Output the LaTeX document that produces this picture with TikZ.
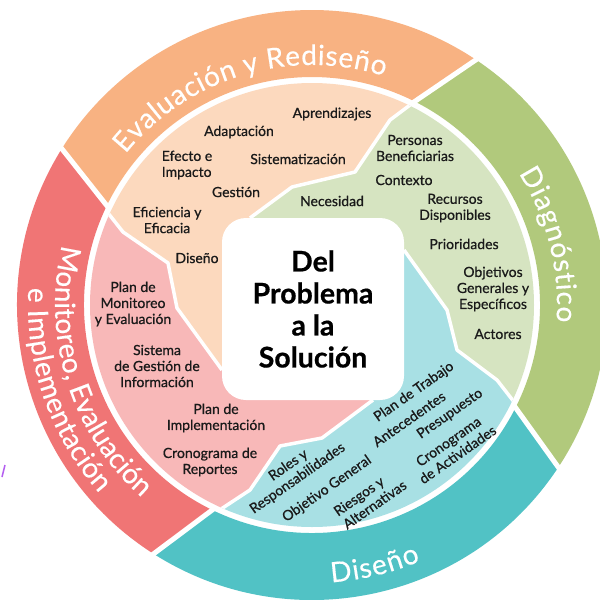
\documentclass[tikz,border=0pt]{standalone}
\usepackage{fontspec}
\setmainfont{Lato}
\newfontfamily\lblfam[FakeBold=0.7]{Lato}
\newfontfamily\ringfam[FakeBold=0.3]{Lato}
\newfontfamily\centrefam[FakeBold=0.6]{Lato}
\usetikzlibrary{decorations.text}
\definecolor{rpeach}{RGB}{248,178,130}
\definecolor{ipeach}{RGB}{252,217,190}
\definecolor{rgreen}{RGB}{177,201,124}
\definecolor{igreen}{RGB}{214,228,193}
\definecolor{rteal}{RGB}{81,194,197}
\definecolor{iteal}{RGB}{168,224,228}
\definecolor{rred}{RGB}{240,117,117}
\definecolor{ipink}{RGB}{248,184,184}
\definecolor{txt}{RGB}{26,26,26}
\definecolor{violetstroke}{RGB}{180,95,240}
\tikzset{
  lbl/.style={font=\lblfam\fontsize{14}{16}\selectfont, text=txt, align=center, inner sep=0pt},
  lbll/.style={lbl, align=left},
  tlbl/.style={lbl, rotate=35},
  sep/.style={draw=white, line width=5pt},
  zig/.style={draw=white, line width=3.5pt, line join=round},
  ringtext/.style={decorate, decoration={text effects along path, text={#1},
     text effects/.cd, text along path, fit text to path,
     characters={text=white, font=\ringfam\fontsize{28}{28}\selectfont}}}
}
\begin{document}
\begin{tikzpicture}[x=1pt,y=1pt]
\useasboundingbox (0,-600) rectangle (600,0);
\fill[white] (0,-600) rectangle (600,0);
\coordinate (C) at (312,-305);
% outer ring segments
\fill[rpeach] ([shift={(C)}]154.4:228) -- ([shift={(C)}]147.8:295) arc[start angle=147.8,end angle=56,radius=295] -- ([shift={(C)}]63.5:228) arc[start angle=63.5,end angle=154.4,radius=228] -- cycle;
\fill[rgreen] ([shift={(C)}]63.5:228) -- ([shift={(C)}]56:295) arc[start angle=56,end angle=-33.6,radius=295] -- ([shift={(C)}]-26.5:228) arc[start angle=-26.5,end angle=63.5,radius=228] -- cycle;
\fill[rteal] ([shift={(C)}]-26.5:228) -- ([shift={(C)}]-33.6:295) arc[start angle=-33.6,end angle=-122.7,radius=295] -- ([shift={(C)}]-115.7:228) arc[start angle=-115.7,end angle=-26.5,radius=228] -- cycle;
\fill[rred] ([shift={(C)}]-115.7:228) -- ([shift={(C)}]-122.7:295) arc[start angle=-122.7,end angle=-212.2,radius=295] -- ([shift={(C)}]-205.6:228) arc[start angle=-205.6,end angle=-115.7,radius=228] -- cycle;
\path[sep] ([shift={(C)}]63.5:226) -- ([shift={(C)}]56:298);
\path[sep] ([shift={(C)}]-26.5:226) -- ([shift={(C)}]-33.6:298);
\path[sep] ([shift={(C)}]-115.7:226) -- ([shift={(C)}]-122.7:298);
\path[sep] ([shift={(C)}]154.4:226) -- ([shift={(C)}]147.8:298);
% ring titles
\path[ringtext={Evaluación y Rediseño}] ([shift={(C)}]141:240) arc[start angle=141,end angle=72.5,radius=240];
\path[ringtext={Diagnóstico}] ([shift={(C)}]32.5:245) arc[start angle=32.5,end angle=-4,radius=245];
\path[ringtext={Diseño}] ([shift={(C)}]-86:278) arc[start angle=-86,end angle=-67,radius=278];
\path[ringtext={Monitoreo, Evaluación}] ([shift={(C)}]166.5:257) arc[start angle=166.5,end angle=228.5,radius=257];
\path[ringtext={e Implementación}] ([shift={(C)}]176.5:284) arc[start angle=176.5,end angle=221.5,radius=284];
% inner disk
\begin{scope}
\clip (C) circle (222);
\fill[ipeach] (420,-97) -- (410,-105) -- (390,-120) -- (355,-172) -- (292,-187) -- (250,-218) -- (313,-309) -- (222,-370) -- (177,-308) -- (168,-263) -- (123,-232) -- (108,-213) -- (90,-195) -- (0,-195) -- (0,0) -- (470,0) -- cycle;
\fill[igreen] (420,-97) -- (410,-105) -- (390,-120) -- (355,-172) -- (292,-187) -- (250,-218) -- (313,-309) -- (404,-250) -- (447,-310) -- (457,-350) -- (497,-380) -- (518,-407) -- (540,-430) -- (650,-450) -- (650,0) -- (470,0) -- cycle;
\fill[ipink] (90,-195) -- (108,-213) -- (123,-232) -- (168,-263) -- (177,-308) -- (222,-370) -- (313,-309) -- (373,-400) -- (322,-438) -- (280,-446) -- (250,-490) -- (212,-515) -- (195,-530) -- (100,-600) -- (0,-600) -- (0,-195) -- cycle;
\fill[iteal] (373,-400) -- (313,-309) -- (404,-250) -- (447,-310) -- (457,-350) -- (497,-380) -- (518,-407) -- (540,-430) -- (650,-450) -- (650,-600) -- (100,-600) -- (195,-530) -- (212,-515) -- (250,-490) -- (280,-446) -- (322,-438) -- cycle;
\path[zig] (420,-97) -- (410,-105) -- (390,-120) -- (355,-172) -- (292,-187) -- (250,-218);
\path[zig] (404,-250) -- (447,-310) -- (457,-350) -- (497,-380) -- (518,-407) -- (540,-430);
\path[zig] (373,-400) -- (322,-438) -- (280,-446) -- (250,-490) -- (212,-515) -- (195,-530);
\path[zig] (222,-370) -- (177,-308) -- (168,-263) -- (123,-232) -- (108,-213) -- (90,-195);
\end{scope}
% centre box
\node[fill=white, rounded corners=24pt, minimum width=182pt, minimum height=182pt, inner sep=0pt] (box) at (313,-309) {};
\node[font=\centrefam\fontsize{28.5}{32}\selectfont\bfseries, text=black, align=center, inner sep=0pt] (centre) at (box.center) {Del\\Problema\\a la\\Solución};
% peach labels
\node[lbl] (aprend) at (332,-114) {Aprendizajes};
\node[lbl] (adapt) at (239,-132) {Adaptación};
\node[lbll] (efecto) at (187,-165) {Efecto e\\Impacto};
\node[lbl] (sistem) at (298,-159) {Sistematización};
\node[lbl] (gestion) at (236,-192) {Gestión};
\node[lbl] (eficiencia) at (167,-220) {Eficiencia y\\Eficacia};
\node[lbl] (disenoi) at (197,-258) {Diseño};
% green labels
\node[lbl] (personas) at (415,-148) {Personas\\Beneficiarias};
\node[lbl] (contexto) at (404,-180) {Contexto};
\node[lbl] (necesidad) at (332,-201) {Necesidad};
\node[lbl] (recursos) at (455,-208) {Recursos\\Disponibles};
\node[lbl] (priori) at (464,-244) {Prioridades};
\node[lbl] (objetivos) at (493,-289) {Objetivos\\Generales y\\Específicos};
\node[lbl] (actores) at (498,-334) {Actores};
% pink labels
\node[lbl] (planmon) at (133,-304) {Plan de\\Monitoreo\\y Evaluación};
\node[lbl] (sistema) at (157,-366) {Sistema\\de Gestión de\\Información};
\node[lbl] (planimp) at (216,-418) {Plan de\\Implementación};
\node[lbl] (cronrep) at (210,-462) {Cronograma de\\Reportes};
% teal labels
\node[tlbl] (plantrab) at (414,-392) {Plan de Trabajo};
\node[tlbl] (antec) at (409,-419) {Antecedentes};
\node[tlbl] (presu) at (450,-414) {Presupuesto};
\node[tlbl] (cronact) at (453,-448) {Cronograma\\de Actividades};
\node[tlbl] (roles) at (293,-472) {Roles y\\Responsabilidades};
\node[tlbl] (objgen) at (327,-489) {Objetivo General};
\node[tlbl, align=left] (riesgos) at (370,-498) {Riesgos y\\Alternativas};
% small violet stroke at left edge
\draw[violetstroke, line width=1.5pt] (5,-465) -- (2,-477);
\end{tikzpicture}
\end{document}
